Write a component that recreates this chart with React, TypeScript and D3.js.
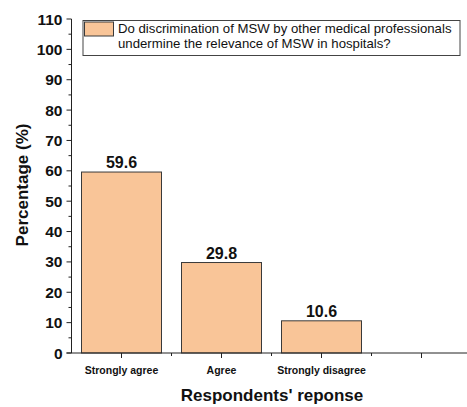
import React from "react";
import * as d3 from "d3";

const categories = ["Strongly agree", "Agree", "Strongly disagree", ""];
const values = [59.6, 29.8, 10.6];
const yTicks = [0, 10, 20, 30, 40, 50, 60, 70, 80, 90, 100, 110];
const legendLines = [
  "Do discrimination of MSW by other medical professionals",
  "undermine the relevance of MSW in hospitals?",
];

const W = 467;
const H = 407;
const left = 71.5;
const top = 19;
const bottom = 353;
const FONT = "'Liberation Sans', Arial, Helvetica, sans-serif";

export default function App() {
  const x = d3.scaleBand<string>().domain(categories.map((c, i) => String(i))).range([left, left + 400]).paddingInner(0.2).paddingOuter(0.1);
  const y = d3.scaleLinear().domain([0, 110]).range([bottom, top]);
  const minor = d3.range(5, 110, 10);
  const band = x.step();
  return (
    <svg width={W} height={H} style={{ position: "absolute", left: 0, top: 0, background: "#fff" }} fontFamily={FONT}>
      {values.map((v, i) => {
        const bx = x(String(i))!;
        return (
          <g key={i}>
            <rect x={bx} y={y(v)} width={x.bandwidth()} height={y(0) - y(v)} fill="#F9C598" stroke="#3a3a3a" strokeWidth={1} />
            <text x={bx + x.bandwidth() / 2} y={y(v) - 4} textAnchor="middle" fontSize={16} fontWeight="bold" fill="#111">{v.toFixed(1)}</text>
          </g>
        );
      })}
      {/* y axis */}
      <line x1={left} x2={left} y1={top} y2={bottom} stroke="#222" strokeWidth={1} />
      {yTicks.map((t) => (
        <g key={t}>
          <line x1={left - 5} x2={left} y1={y(t)} y2={y(t)} stroke="#222" />
          <text x={left - 9} y={y(t) + 5.5} textAnchor="end" fontSize={15.5} fontWeight="bold" fill="#111">{t}</text>
        </g>
      ))}
      {minor.map((t) => (
        <line key={t} x1={left - 3} x2={left} y1={y(t)} y2={y(t)} stroke="#222" />
      ))}
      {/* x axis */}
      <line x1={left - 5} x2={W} y1={bottom} y2={bottom} stroke="#222" />
      {categories.map((c, i) => {
        const cx = x(String(i))! + x.bandwidth() / 2;
        return (
          <g key={i}>
            <line x1={cx} x2={cx} y1={bottom} y2={bottom + 5} stroke="#222" />
            <line x1={cx + band / 2} x2={cx + band / 2} y1={bottom} y2={bottom + 3} stroke="#222" />
            <text x={cx} y={bottom + 21} textAnchor="middle" fontSize={10.5} fontWeight="bold" fill="#111">{c}</text>
          </g>
        );
      })}
      <text x={272} y={401} textAnchor="middle" fontSize={17} fontWeight="bold" fill="#111">Respondents' reponse</text>
      <text transform={`translate(28,185) rotate(-90)`} textAnchor="middle" fontSize={17} fontWeight="bold" fill="#111">Percentage (%)</text>
      {/* legend */}
      <rect x={83} y={20.5} width={377} height={35} fill="#fff" stroke="#444" />
      <rect x={84.5} y={22} width={29} height={14} fill="#F9C598" stroke="#3a3a3a" />
      {legendLines.map((l, i) => (
        <text key={i} x={118} y={33 + i * 15} fontSize={13.2} fill="#111">{l}</text>
      ))}
    </svg>
  );
}
